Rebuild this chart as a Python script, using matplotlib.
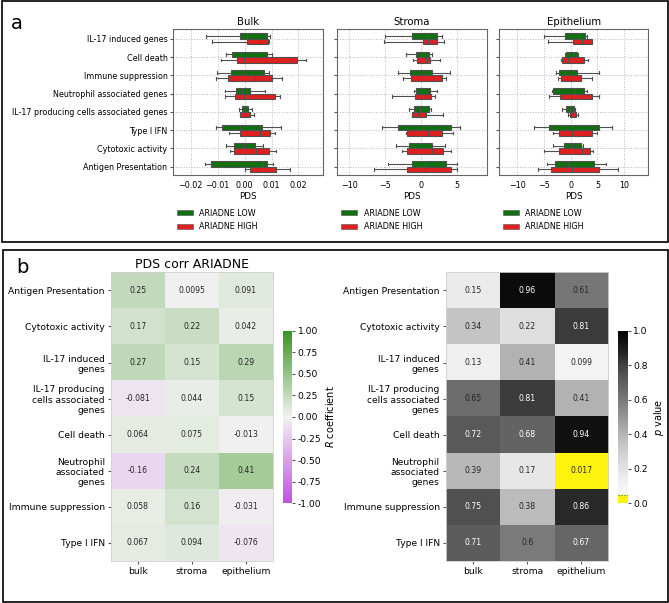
import matplotlib
matplotlib.use('Agg')
import matplotlib.pyplot as plt
import numpy as np
from matplotlib.colors import LinearSegmentedColormap, ListedColormap
from matplotlib.patches import Rectangle, Patch

W, H = 669, 603

# ---- panel a: PDS box plots (whislo, q1, median, q3, whishi) ----
box_genes = ['IL-17 induced genes', 'Cell death', 'Immune suppression',
             'Neutrophil associated genes', 'IL-17 producing cells associated genes',
             'Type I IFN', 'Cytotoxic activity', 'Antigen Presentation']
box_titles = ['Bulk', 'Stroma', 'Epithelium']
hue_labels = ['ARIADNE LOW', 'ARIADNE HIGH']

bulk_low = [(-0.0145, -0.0016, 0.0009, 0.0083, 0.0093),
            (-0.0071, -0.0046, -0.0012, 0.0083, 0.0103),
            (-0.0103, -0.0050, -0.0002, 0.0071, 0.0090),
            (-0.0072, -0.0033, -0.0010, 0.0021, 0.0077),
            (-0.0021, -0.0011, -0.0006, 0.0014, 0.0027),
            (-0.0105, -0.0084, -0.0017, 0.0066, 0.0136),
            (-0.0068, -0.0041, -0.0002, 0.0037, 0.0068),
            (-0.0147, -0.0126, 0.0068, 0.0083, 0.0105)]
bulk_high = [(-0.0120, 0.0007, 0.0053, 0.0088, 0.0090),
             (-0.0087, -0.0028, -0.0002, 0.0194, 0.0229),
             (-0.0105, -0.0062, 0.0038, 0.0103, 0.0140),
             (-0.0072, -0.0036, -0.0001, 0.0111, 0.0131),
             (-0.0019, -0.0019, 0.0000, 0.0020, 0.0035),
             (-0.0058, -0.0016, 0.0058, 0.0093, 0.0113),
             (-0.0053, -0.0040, 0.0041, 0.0089, 0.0118),
             (0.0000, 0.0019, 0.0047, 0.0115, 0.0167)]
stroma_low = [(-5.0, -1.3, 0.8, 2.3, 2.9),
              (-2.1, -0.65, 0.0, 1.1, 1.6),
              (-3.2, -1.5, 0.4, 1.6, 4.0),
              (-1.0, -0.65, 0.0, 1.25, 2.3),
              (-1.6, -1.0, -0.15, 1.1, 1.4),
              (-5.5, -3.2, 0.5, 4.25, 5.5),
              (-3.5, -1.7, 0.05, 1.5, 3.4),
              (-4.6, -1.25, 0.6, 3.5, 5.1)]
stroma_high = [(-5.2, 0.3, 1.0, 2.3, 3.2),
               (-1.1, -0.6, 0.65, 1.3, 2.7),
               (-2.5, -1.45, 1.7, 3.0, 3.5),
               (-4.0, -0.85, 0.6, 1.4, 2.0),
               (-1.3, -1.2, -0.4, 0.75, 3.1),
               (-2.1, -1.9, 1.0, 2.9, 4.5),
               (-2.6, -2.0, 1.6, 3.1, 4.25),
               (-6.5, -2.0, 0.6, 4.25, 5.1)]
epi_low = [(-5.05, -1.0, 1.5, 2.7, 3.1),
           (-1.1, -0.8, 0.5, 1.25, 1.4),
           (-2.8, -2.25, -1.1, 1.1, 5.2),
           (-3.55, -3.35, 0.75, 2.5, 3.0),
           (-1.55, -0.85, -0.1, 0.6, 0.8),
           (-6.8, -4.1, -0.75, 5.2, 7.65),
           (-3.4, -1.25, 0.2, 1.95, 2.25),
           (-4.4, -2.95, -0.45, 4.35, 6.55)]
epi_high = [(-4.3, 0.5, 2.2, 3.9, 4.05),
            (-1.75, -1.6, -0.45, 2.4, 3.3),
            (-2.35, -1.9, -0.75, 2.0, 3.9),
            (-4.0, -2.0, 2.25, 4.05, 5.35),
            (-0.45, -0.05, 0.1, 0.95, 1.3),
            (-3.4, -2.2, 0.25, 4.05, 4.85),
            (-5.05, -2.2, 2.05, 3.6, 4.25),
            (-6.05, -3.75, 0.2, 5.2, 8.9)]
box_xlims = [(-0.0266, 0.0291), (-11.7, 9.2), (-13.4, 14.5)]
box_xticks = [[-0.02, -0.01, 0.0, 0.01, 0.02], [-10, -5, 0, 5], [-10, -5, 0, 5, 10]]

# ---- panel b: correlation heatmaps ----
heat_rows = ['Antigen Presentation', 'Cytotoxic activity', 'IL-17 induced\ngenes',
             'IL-17 producing\ncells associated\ngenes', 'Cell death',
             'Neutrophil\nassociated\ngenes', 'Immune suppression', 'Type I IFN']
heat_cols = ['bulk', 'stroma', 'epithelium']
r_bulk = [0.25, 0.17, 0.27, -0.081, 0.064, -0.16, 0.058, 0.067]
r_stroma = [0.0095, 0.22, 0.15, 0.044, 0.075, 0.24, 0.16, 0.094]
r_epi = [0.091, 0.042, 0.29, 0.15, -0.013, 0.41, -0.031, -0.076]
p_bulk = [0.15, 0.34, 0.13, 0.65, 0.72, 0.39, 0.75, 0.71]
p_stroma = [0.96, 0.22, 0.41, 0.81, 0.68, 0.17, 0.38, 0.6]
p_epi = [0.61, 0.81, 0.099, 0.41, 0.94, 0.017, 0.86, 0.67]

green = '#107010'
red = '#df2020'
edge = '#505050'


def px_axes(fig, x0, y0, x1, y1):
    return fig.add_axes([x0 / W, 1 - y1 / H, (x1 - x0) / W, (y1 - y0) / H])


fig = plt.figure(figsize=(W / 100, H / 100), dpi=100)

# panel frames
fig.add_artist(Rectangle((1.5 / W, 1 - 242 / H), 666.5 / W, 240.5 / H,
                         transform=fig.transFigure, fill=False, ec='black', lw=1.2))
fig.add_artist(Rectangle((3 / W, 1 - 602 / H), 665 / W, 352 / H,
                         transform=fig.transFigure, fill=False, ec='black', lw=1.2))
fig.text(11 / W, 1 - 29 / H, 'a', fontsize=14)
fig.text(16 / W, 1 - 273 / H, 'b', fontsize=14)

box_data = [(bulk_low, bulk_high), (stroma_low, stroma_high), (epi_low, epi_high)]
box_px = [(173, 323), (337.3, 486.7), (499, 648.3)]
ypos = np.arange(len(box_genes))

for k, (lo, hi) in enumerate(box_data):
    ax = px_axes(fig, box_px[k][0], 29.3, box_px[k][1], 175)
    for data, off, col in [(lo, -0.15, green), (hi, 0.15, red)]:
        stats = [dict(whislo=d[0], q1=d[1], med=d[2], q3=d[3], whishi=d[4]) for d in data]
        ax.bxp(stats, positions=ypos + off, widths=0.3, orientation='horizontal',
               patch_artist=True, showfliers=False, capwidths=0.15, manage_ticks=False,
               boxprops=dict(facecolor=col, edgecolor=edge, lw=0.8),
               whiskerprops=dict(color=edge, lw=0.8), capprops=dict(color=edge, lw=0.8),
               medianprops=dict(color=edge, lw=0.8))
    ax.set_ylim(7.46, -0.53)
    ax.set_xlim(*box_xlims[k])
    ax.set_xticks(box_xticks[k])
    if k == 0:
        ax.set_xticklabels(['\u22120.02', '\u22120.01', '0.00', '0.01', '0.02'])
    ax.set_yticks(ypos)
    ax.set_yticklabels(box_genes if k == 0 else [])
    ax.grid(True, ls=':', color='#b8b8b8', lw=0.7)
    ax.set_axisbelow(True)
    ax.tick_params(labelsize=5.8, length=2, color='#555555', pad=2)
    ax.tick_params(axis='x', length=0, pad=4)
    for sp in ax.spines.values():
        sp.set_color('#666666')
        sp.set_linewidth(0.8)
    ax.set_title(box_titles[k], fontsize=7.3, pad=3)
    ax.set_xlabel('PDS', fontsize=6.3, labelpad=2)
    handles = [Patch(fc=green, ec=edge, lw=0.4), Patch(fc=red, ec=edge, lw=0.4)]
    ax.legend(handles, hue_labels, loc='upper left', bbox_to_anchor=(0.025, -0.23),
              frameon=False, fontsize=5.8, handlelength=2.0, handleheight=0.6,
              handletextpad=0.8, labelspacing=0.55, borderpad=0, borderaxespad=0)

# heatmap colormaps
r_cmap = LinearSegmentedColormap.from_list('pg', ['#c24fe3', '#f2f2f2', '#38951b'])
grey_cols = plt.get_cmap('Greys')(np.linspace(0, 1, 256))
grey_cols[:13] = (1.0, 0.95, 0.05, 1.0)
p_cmap = ListedColormap(grey_cols)

r_vals = np.array([r_bulk, r_stroma, r_epi]).T
p_vals = np.array([p_bulk, p_stroma, p_epi]).T

heat_px = [(111, 272.7, 282.7, 292.3), (446, 608.3, 618.3, 627.7)]
for k, (vals, cmap, vmin) in enumerate([(r_vals, r_cmap, -1), (p_vals, p_cmap, 0)]):
    x0, x1, c0, c1 = heat_px[k]
    ax = px_axes(fig, x0, 272.3, x1, 561)
    im = ax.imshow(vals, cmap=cmap, vmin=vmin, vmax=1, aspect='auto')
    for i in range(vals.shape[0]):
        for j in range(vals.shape[1]):
            rgba = cmap((vals[i, j] - vmin) / (1 - vmin))
            lum = 0.2126 * rgba[0] + 0.7152 * rgba[1] + 0.0722 * rgba[2]
            tc = '#262626' if lum > 0.408 else 'white'
            ax.text(j, i, '%.2g' % vals[i, j], ha='center', va='center',
                    fontsize=5.6, color=tc)
    ax.set_xticks(range(3))
    ax.set_xticklabels(heat_cols)
    ax.set_yticks(range(len(heat_rows)))
    ax.set_yticklabels(heat_rows)
    ax.tick_params(labelsize=6.6, length=2.5, color='#555555', pad=2)
    for sp in ax.spines.values():
        sp.set_color('#d0d0d0')
        sp.set_linewidth(0.6)
    if k == 0:
        ax.set_title('PDS corr ARIADNE', fontsize=9, pad=3)
    cax = px_axes(fig, c0, 330.7, c1, 503.3)
    cb = fig.colorbar(im, cax=cax)
    cb.outline.set_visible(False)
    cax.tick_params(labelsize=6.6, length=2.5, color='#555555', pad=1.5)
    if k == 0:
        cb.set_ticks(np.arange(-1, 1.01, 0.25))
        cb.set_ticklabels(['%.2f' % t for t in np.arange(-1, 1.01, 0.25)])
        cb.set_label('$R$ coefficient', fontsize=7, labelpad=2)
    else:
        cb.set_ticks(np.arange(0, 1.01, 0.2))
        cb.set_ticklabels(['%.1f' % t for t in np.arange(0, 1.01, 0.2)])
        cax.axhline(0.05, color='#606060', ls=':', lw=0.8)
        cb.set_label('$p$ value', fontsize=7, labelpad=3)

fig.savefig('out.png', dpi=100)
